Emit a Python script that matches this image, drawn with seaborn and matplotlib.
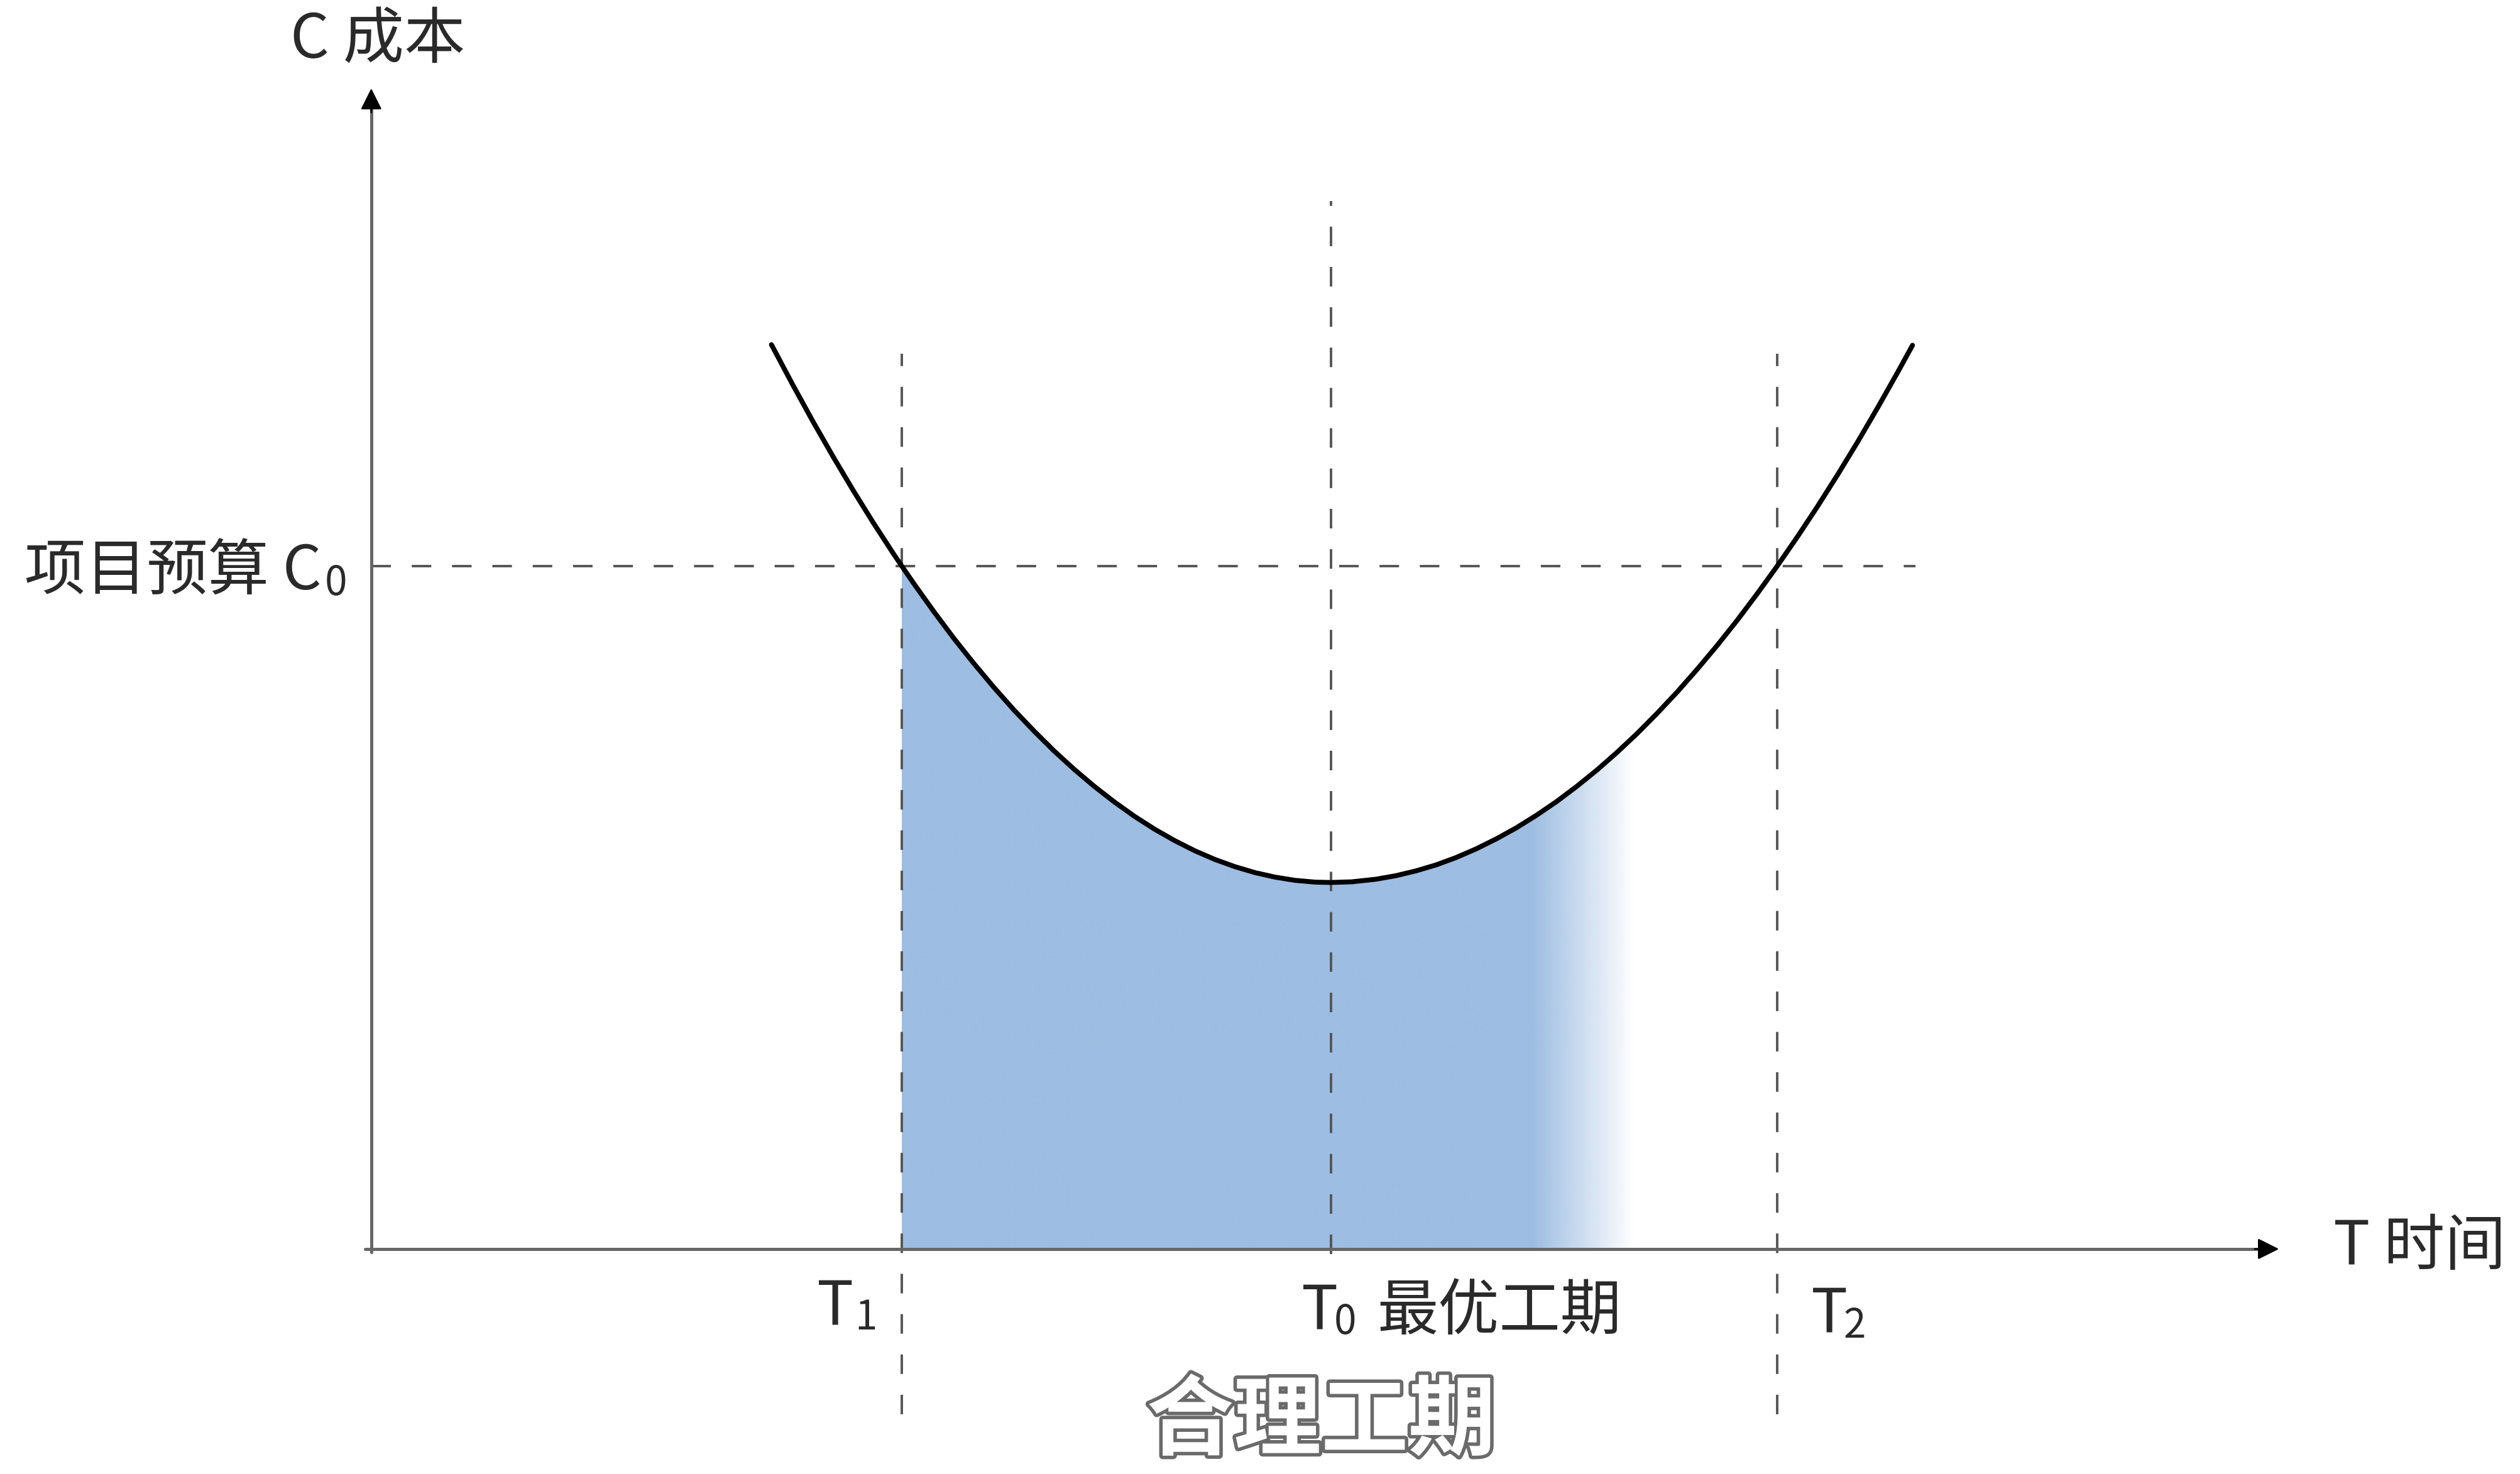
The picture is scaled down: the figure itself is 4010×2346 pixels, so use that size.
import numpy as np
import pandas as pd
import matplotlib
matplotlib.use("Agg")
import matplotlib.pyplot as plt
import matplotlib.patheffects as pe
import seaborn as sns

# ---- values (T: time, C: cost, arbitrary units) ----
curve_t = [2.49, 2.625, 2.75, 2.875, 3.0, 3.125, 3.25, 3.3, 3.375, 3.5, 3.625, 3.75, 3.875,
           4.0, 4.125, 4.25, 4.375, 4.5, 4.625, 4.75, 4.875, 5.0, 5.125, 5.25, 5.375, 5.5,
           5.625, 5.75, 5.875, 5.97, 6.1, 6.25, 6.375, 6.5, 6.625, 6.75, 6.875, 7.0, 7.125,
           7.25, 7.375, 7.5, 7.625, 7.75, 7.875, 8.0, 8.125, 8.25, 8.375, 8.5, 8.625, 8.75,
           8.875, 9.0, 9.125, 9.25, 9.375, 9.5, 9.59]
curve_c = [5.626, 5.372, 5.145, 4.927, 4.717, 4.516, 4.324, 4.250, 4.141, 3.966, 3.799, 3.642,
           3.493, 3.352, 3.221, 3.097, 2.983, 2.877, 2.780, 2.691, 2.611, 2.540, 2.477, 2.423,
           2.378, 2.341, 2.313, 2.293, 2.282, 2.280, 2.284, 2.300, 2.322, 2.352, 2.389, 2.435,
           2.489, 2.551, 2.620, 2.698, 2.783, 2.877, 2.978, 3.088, 3.205, 3.331, 3.464, 3.606,
           3.755, 3.912, 4.078, 4.251, 4.432, 4.621, 4.818, 5.023, 5.237, 5.458, 5.622]

T1, T0, T2 = 3.3, 5.97, 8.75
C0 = 4.25
fade_start, fade_end = 7.23, 7.86

x_axis_end = 11.87
y_axis_end = 7.22

FILL_BLUE = "#9DBDE2"
DASH_GREY = "#555555"
AXIS_GREY = "#666666"
TEXT_COL = "#2a2a2a"

df = pd.DataFrame({"T": curve_t, "C": curve_c})

sns.set_theme(style="white")
plt.rcParams["font.family"] = ["Noto Sans CJK SC", "DejaVu Sans"]

fig = plt.figure(figsize=(20.05, 11.73), dpi=200)
ax = fig.add_axes([0, 0, 1, 1])
ax.set_xlim(-2.31, 13.37)
ax.set_ylim(-1.40, 7.77)
ax.axis("off")

# ---- shaded region under the curve, fading out to the right ----
sub = df[(df["T"] >= T1) & (df["T"] <= 8.0)]
poly = ax.fill_between(sub["T"], 0, sub["C"], facecolor="none", edgecolor="none")
grad_x = np.linspace(T1, 8.0, 600)
alpha = np.clip((fade_end - grad_x) / (fade_end - fade_start), 0, 1)
rgba = np.zeros((2, len(grad_x), 4))
rgba[..., :3] = matplotlib.colors.to_rgb(FILL_BLUE)
rgba[..., 3] = alpha
im = ax.imshow(rgba, extent=(T1, 8.0, 0, 5.0), origin="lower", aspect="auto",
               interpolation="bilinear", zorder=1)
im.set_clip_path(poly.get_paths()[0], transform=ax.transData)

# ---- dashed guide lines ----
dash = dict(color=DASH_GREY, lw=1.4, dashes=(8, 8.5), zorder=2)
ax.plot([0, 9.61], [C0, C0], **dash)
ax.plot([T1, T1], [-1.03, 5.57], **dash)
ax.plot([T0, T0], [-0.03, 6.52], **dash)
ax.plot([T2, T2], [-1.03, 5.57], **dash)

# ---- cost curve ----
sns.lineplot(data=df, x="T", y="C", color="black", lw=2.8, ax=ax, zorder=4,
             sort=False, estimator=None, solid_joinstyle="round")

# ---- axes with arrows ----
ax.plot([0, 0], [-0.02, y_axis_end - 0.1], color=AXIS_GREY, lw=1.8, zorder=3)
ax.plot([-0.04, x_axis_end - 0.1], [0, 0], color=AXIS_GREY, lw=1.8, zorder=3)
head = dict(arrowstyle="-|>", color="black", lw=1.0, mutation_scale=26,
            shrinkA=0, shrinkB=0)
ax.annotate("", xy=(0, y_axis_end), xytext=(0, y_axis_end - 0.15), arrowprops=head, zorder=3)
ax.annotate("", xy=(x_axis_end, 0), xytext=(x_axis_end - 0.15, 0), arrowprops=head, zorder=3)

# ---- labels ----
fs, fs_sub = 35, 23
lbl = dict(color=TEXT_COL, fontweight="light")
ax.text(0.04, 7.52, "C 成本", fontsize=fs, ha="center", va="center", **lbl)
ax.text(12.21, 0.01, "T 时间", fontsize=fs, ha="left", va="center", **lbl)

ax.text(-0.31, 4.10, "项目预算 C", fontsize=fs, ha="right", va="baseline", **lbl)
ax.text(-0.29, 4.07, "0", fontsize=fs_sub, ha="left", va="baseline", **lbl)

ax.text(3.00, -0.47, "T", fontsize=fs, ha="right", va="baseline", **lbl)
ax.text(3.01, -0.50, "1", fontsize=fs_sub, ha="left", va="baseline", **lbl)

ax.text(5.79, -0.50, "T", fontsize=fs, ha="left", va="baseline", **lbl)
ax.text(5.99, -0.53, "0", fontsize=fs_sub, ha="left", va="baseline", **lbl)
ax.text(6.26, -0.50, "最优工期", fontsize=fs, ha="left", va="baseline", **lbl)

ax.text(8.96, -0.52, "T", fontsize=fs, ha="left", va="baseline", **lbl)
ax.text(9.16, -0.55, "2", fontsize=fs_sub, ha="left", va="baseline", **lbl)

ax.text(5.91, -1.08, "合理工期", fontsize=50, ha="center", va="center", color="white",
        fontweight="bold",
        path_effects=[pe.withStroke(linewidth=4, foreground="#6a6a6a")])

fig.savefig("out.png", dpi=200, facecolor="white")
